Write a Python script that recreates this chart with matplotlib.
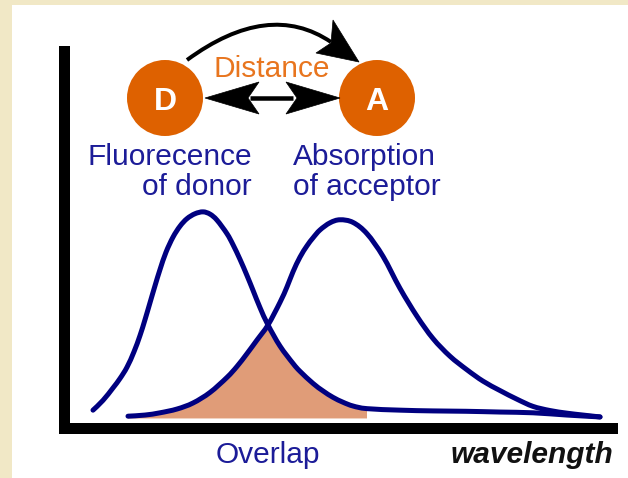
import numpy as np
import matplotlib
matplotlib.use("Agg")
import matplotlib.pyplot as plt
from matplotlib.patches import Circle, Polygon, Rectangle, PathPatch
from matplotlib.path import Path

# ---- data (arbitrary wavelength units, relative intensity) ----
donor_wl = [430, 440, 450, 457, 464, 471, 477, 482, 487, 492, 497, 503, 510, 517, 524, 532,
            540, 547, 554, 564, 570, 577, 584, 590, 597, 605, 617, 630, 637, 650, 660, 670,
            680, 690, 704, 737, 770, 803, 837, 870, 904, 937]
donor_int = [4.6, 7.2, 10.5, 13.0, 16.0, 20.1, 24.4, 28.6, 33.1, 37.6, 41.9, 46.5, 50.5, 53.4, 55.4, 56.7,
             57.2, 56.6, 55.0, 51.4, 48.5, 44.6, 40.3, 36.4, 31.8, 27.2, 21.6, 17.0, 14.9, 11.7, 9.7, 8.0,
             6.7, 5.7, 5.0, 4.6, 4.4, 4.3, 4.1, 3.9, 3.3, 2.8]

acceptor_wl = [465, 482, 497, 514, 530, 547, 564, 574, 584, 594, 605, 617, 624, 630, 637, 644,
               650, 657, 667, 677, 690, 704, 720, 737, 754, 770, 787, 804, 820, 837, 854, 870,
               887, 904, 920, 937]
acceptor_int = [3.0, 3.3, 3.9, 4.9, 6.5, 9.3, 13.3, 16.2, 19.6, 23.2, 27.2, 33.2, 37.3, 41.3, 45.2, 48.2,
                50.3, 52.4, 54.3, 55.1, 54.4, 51.4, 45.4, 36.9, 29.5, 23.6, 18.9, 15.3, 12.3, 9.8, 7.5, 5.6,
                4.5, 3.8, 3.3, 2.8]

crossing_wl = 605
overlap_end_wl = 704
overlap_base = 2.4

labels = {
    "donor": ["Fluorecence", "of donor"],
    "acceptor": ["Absorption", "of acceptor"],
    "distance": "Distance",
    "overlap": "Overlap",
    "xlabel": "wavelength",
}

# ---- styling ----
W, H = 628, 478
PARCH = "#f1e8c6"
NAVY = "#000080"
TEXT_BLUE = "#1c1c98"
ORANGE = "#de6100"
ORANGE_TXT = "#e8751e"
FILL = "#e09c78"
FONT = "Liberation Sans"


def smooth_path_parts(x, y, i0, i1):
    """Cubic Bezier segments (Catmull-Rom) through points i0..i1 of (x, y)."""
    x = np.asarray(x, float)
    y = np.asarray(y, float)
    n = len(x)
    verts, codes = [], []
    for i in range(i0, i1):
        p0 = np.array([x[max(i - 1, 0)], y[max(i - 1, 0)]])
        p1 = np.array([x[i], y[i]])
        p2 = np.array([x[i + 1], y[i + 1]])
        p3 = np.array([x[min(i + 2, n - 1)], y[min(i + 2, n - 1)]])
        c1 = p1 + (p2 - p0) / 6.0
        c2 = p2 - (p3 - p1) / 6.0
        verts += [tuple(c1), tuple(c2), tuple(p2)]
        codes += [Path.CURVE4] * 3
    return verts, codes


def smooth_curve(x, y):
    v, c = smooth_path_parts(x, y, 0, len(x) - 1)
    return Path([(x[0], y[0])] + v, [Path.MOVETO] + c)


fig = plt.figure(figsize=(W / 100, H / 100), dpi=100)
fig.patch.set_facecolor(PARCH)

# background white panel
bg = fig.add_axes([0, 0, 1, 1], zorder=0)
bg.set_xlim(0, W)
bg.set_ylim(H, 0)
bg.axis("off")
bg.add_patch(Rectangle((12, 5), W - 12, H - 5, facecolor="white", edgecolor="none"))

# main chart axes
ax = fig.add_axes([63.5 / W, (H - 427.5) / H, 548 / W, 377 / H], zorder=1)
ax.set_facecolor("none")
ax.set_xlim(400.5, 948.5)
ax.set_ylim(0, 100)
ax.set_xticks([])
ax.set_yticks([])
for s in ["top", "right"]:
    ax.spines[s].set_visible(False)
for s in ["left", "bottom"]:
    ax.spines[s].set_linewidth(11 * 0.72)
    ax.spines[s].set_color("black")
    ax.spines[s].set_capstyle("projecting")

# overlap fill: acceptor up to crossing, donor after it, back along the base
ia_cross = acceptor_wl.index(crossing_wl)
id_cross = donor_wl.index(crossing_wl)
id_end = donor_wl.index(overlap_end_wl)
va, ca = smooth_path_parts(acceptor_wl, acceptor_int, 0, ia_cross)
vd, cd = smooth_path_parts(donor_wl, donor_int, id_cross, id_end)
fill_verts = ([(acceptor_wl[0], overlap_base), (acceptor_wl[0], acceptor_int[0])] + va + vd +
              [(donor_wl[id_end], overlap_base), (acceptor_wl[0], overlap_base)])
fill_codes = ([Path.MOVETO, Path.LINETO] + ca + cd + [Path.LINETO, Path.CLOSEPOLY])
ax.add_patch(PathPatch(Path(fill_verts, fill_codes), facecolor=FILL, edgecolor="none", zorder=1))

lw = 5 * 0.72
for xs, ys in [(donor_wl, donor_int), (acceptor_wl, acceptor_int)]:
    ax.add_patch(PathPatch(smooth_curve(xs, ys), facecolor="none", edgecolor=NAVY, lw=lw,
                           capstyle="round", joinstyle="round", zorder=3, clip_on=False))

# overlay for diagram annotations (pixel coordinates)
ov = fig.add_axes([0, 0, 1, 1], zorder=2)
ov.set_xlim(0, W)
ov.set_ylim(H, 0)
ov.axis("off")
ov.set_facecolor("none")

ov.add_patch(Circle((165, 98), 38, facecolor=ORANGE, edgecolor="none"))
ov.add_patch(Circle((377, 98), 38, facecolor=ORANGE, edgecolor="none"))
ov.text(165, 98, "D", color="white", fontsize=23, fontweight="bold", family=FONT,
        ha="center", va="center_baseline")
ov.text(377, 98, "A", color="white", fontsize=23, fontweight="bold", family=FONT,
        ha="center", va="center_baseline")

# double-headed horizontal arrow
ov.plot([250, 293], [98, 98], color="black", lw=4.5 * 0.72, solid_capstyle="butt")
ov.add_patch(Polygon([(205, 98), (259, 82), (248, 98), (259, 114)], closed=True,
                     facecolor="black", edgecolor="black", lw=0.5))
ov.add_patch(Polygon([(340, 98), (286, 82), (297, 98), (286, 114)], closed=True,
                     facecolor="black", edgecolor="black", lw=0.5))

# curved arrow D -> A
arc = Path([(187, 60), (268.75, 0), (331, 42)], [Path.MOVETO, Path.CURVE3, Path.CURVE3])
ov.add_patch(PathPatch(arc, facecolor="none", edgecolor="black", lw=4 * 0.72, capstyle="butt"))
ov.add_patch(Polygon([(359, 62), (333, 20), (331, 43), (316, 53)], closed=True,
                     facecolor="black", edgecolor="black", lw=0.5))

ov.text(272, 77, labels["distance"], color=ORANGE_TXT, fontsize=21.5, family=FONT,
        ha="center", va="baseline")

ov.text(252, 165, labels["donor"][0], color=TEXT_BLUE, fontsize=21.5, family=FONT,
        ha="right", va="baseline")
ov.text(252, 195, labels["donor"][1], color=TEXT_BLUE, fontsize=21.5, family=FONT,
        ha="right", va="baseline")
ov.text(293, 165, labels["acceptor"][0], color=TEXT_BLUE, fontsize=21.5, family=FONT,
        ha="left", va="baseline")
ov.text(293, 195, labels["acceptor"][1], color=TEXT_BLUE, fontsize=21.5, family=FONT,
        ha="left", va="baseline")

ov.text(267.5, 463, labels["overlap"], color=TEXT_BLUE, fontsize=21.5, family=FONT,
        ha="center", va="baseline")
ov.text(613, 463, labels["xlabel"], color="#111111", fontsize=21.5, family=FONT,
        fontweight="bold", fontstyle="italic", ha="right", va="baseline")

fig.savefig("out.png", dpi=100, facecolor=fig.get_facecolor())
